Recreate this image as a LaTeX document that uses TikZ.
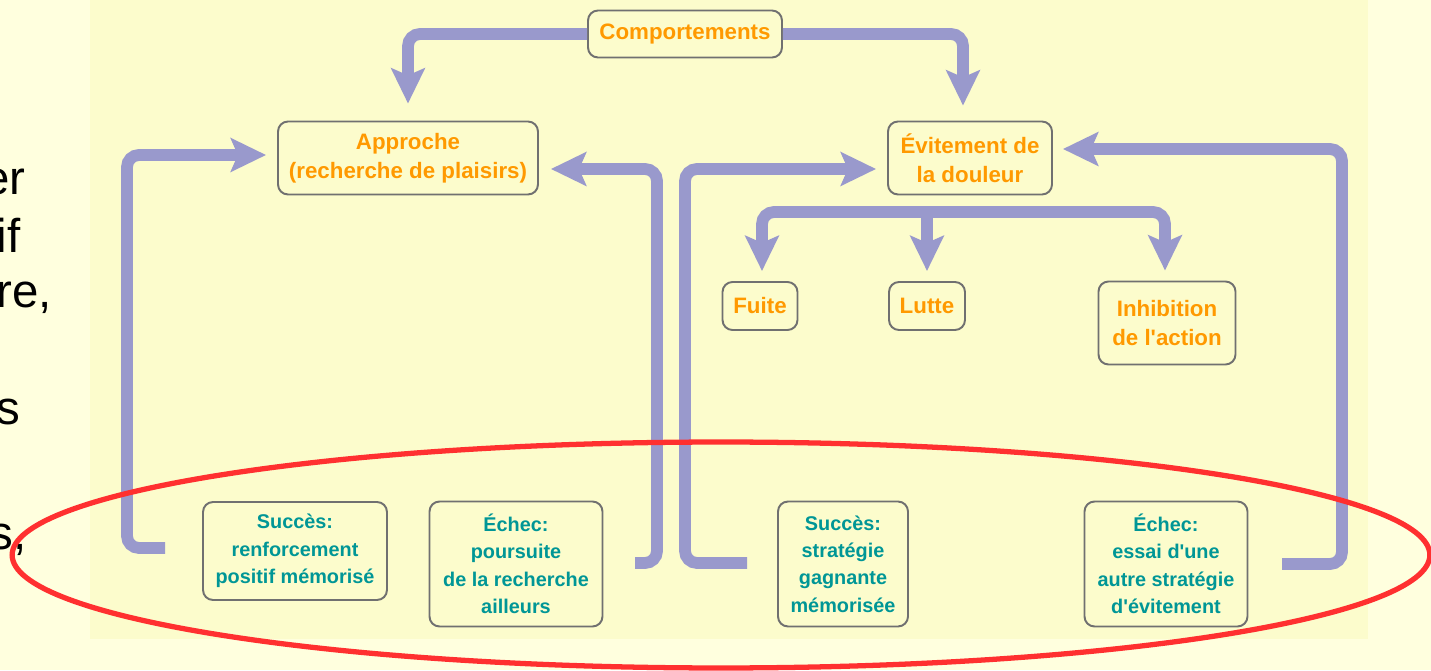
\documentclass[tikz,border=0pt]{standalone}
\usepackage{fontspec}
\usetikzlibrary{arrows.meta}
\newfontfamily\diagfont{Liberation Sans}
\definecolor{outerbg}{RGB}{255,255,222}
\definecolor{panelbg}{RGB}{252,252,204}
\definecolor{orangetxt}{RGB}{255,153,0}
\definecolor{tealtxt}{RGB}{0,150,150}
\definecolor{flowcol}{RGB}{153,153,204}
\definecolor{boxline}{RGB}{112,112,112}
\definecolor{ringred}{RGB}{255,48,48}
\begin{document}
\begin{tikzpicture}[x=0.02cm,y=0.02cm,
    box/.style={draw=boxline,line width=1.1pt,rounded corners=0.2cm,fill=panelbg,align=center,inner sep=0pt},
    goal/.style={box,text=orangetxt,font=\diagfont\bfseries\fontsize{12.7}{16.4}\selectfont},
    outcome/.style={box,text=tealtxt,font=\diagfont\bfseries\fontsize{11.3}{15.6}\selectfont},
    flow/.style={draw=flowcol,line width=6.7pt,rounded corners=0.24cm,-{Stealth[length=20pt,width=19pt,inset=4pt]}},
    slide/.style={font=\diagfont\fontsize{27}{32}\selectfont,anchor=base east,inner sep=0pt}]
            \useasboundingbox (0,0) rectangle (1431,670);
            \fill[outerbg] (0,0) rectangle (1431,670);
            \fill[panelbg] (90,31) rectangle (1368,670);
            % cut-off words of the slide text
            \node[slide] (wordA) at (26,475) {er};
            \node[slide] (wordB) at (21,417) {if};
            \node[slide] (wordC) at (52,362) {re,};
            \node[slide] (wordD) at (21,245) {s};
            \node[slide] (wordE) at (27,120) {s,};
            % boxes
            \node[goal,minimum width=3.88cm,minimum height=0.94cm] (comp) at (685,636) {Comportements};
            \node[goal,minimum width=5.2cm,minimum height=1.46cm] (appr) at (408,512) {Approche\\(recherche de plaisirs)};
            \node[goal,minimum width=3.28cm,minimum height=1.46cm] (evit) at (970,512) {Évitement de\\la douleur};
            \node[goal,minimum width=1.5cm,minimum height=0.96cm] (fuite) at (760,364) {Fuite};
            \node[goal,minimum width=1.52cm,minimum height=0.96cm] (lutte) at (927,364) {Lutte};
            \node[goal,minimum width=2.74cm,minimum height=1.66cm] (inhib) at (1167,347) {Inhibition\\de l'action};
            \node[outcome,minimum width=3.68cm,minimum height=1.96cm] (succA) at (295,119) {Succès:\\renforcement\\positif mémorisé};
            \node[outcome,minimum width=3.46cm,minimum height=2.5cm] (echA) at (516,106) {Échec:\\poursuite\\de la recherche\\ailleurs};
            \node[outcome,minimum width=2.6cm,minimum height=2.5cm] (succE) at (843,106) {Succès:\\stratégie\\gagnante\\mémorisée};
            \node[outcome,minimum width=3.26cm,minimum height=2.5cm] (echE) at (1166,106) {Échec:\\essai d'une\\autre stratégie\\d'évitement};
            % free ends of the loops
            \coordinate (succAout) at (165,122);
            \coordinate (echAout) at (635,107);
            \coordinate (succEout) at (747,107);
            \coordinate (echEout) at (1282,106);
            \coordinate (split) at (927,458);
            % arrows
            \draw[flow,shorten >=0.34cm] (comp.west) -| (appr.north);
            \draw[flow,shorten >=0.3cm] (comp.east) -| ([xshift=-0.14cm]evit.north);
            \draw[flow,shorten >=0.22cm] (succAout) -- (127,122) |- ([yshift=0.06cm]appr.west);
            \draw[flow,shorten >=0.24cm] (echAout) -- (657,107) |- ([yshift=-0.22cm]appr.east);
            \draw[flow,shorten >=0.22cm] (succEout) -- (685,107) |- ([yshift=-0.22cm]evit.west);
            \draw[flow,shorten >=0.2cm] (echEout) -- (1342,106) |- ([yshift=0.18cm]evit.east);
            \draw[flow,shorten >=0.2cm] (split) -| ([xshift=0.04cm]fuite.north);
            \draw[flow,shorten >=0.2cm] (split) -- (lutte.north);
            \draw[flow,shorten >=0.2cm] (split) -| ([xshift=-0.04cm]inhib.north);
            % red ring
            \draw[ringred,line width=3pt] (721,115) ellipse [x radius=14.18cm,y radius=2.26cm];
        \end{tikzpicture}
\end{document}
